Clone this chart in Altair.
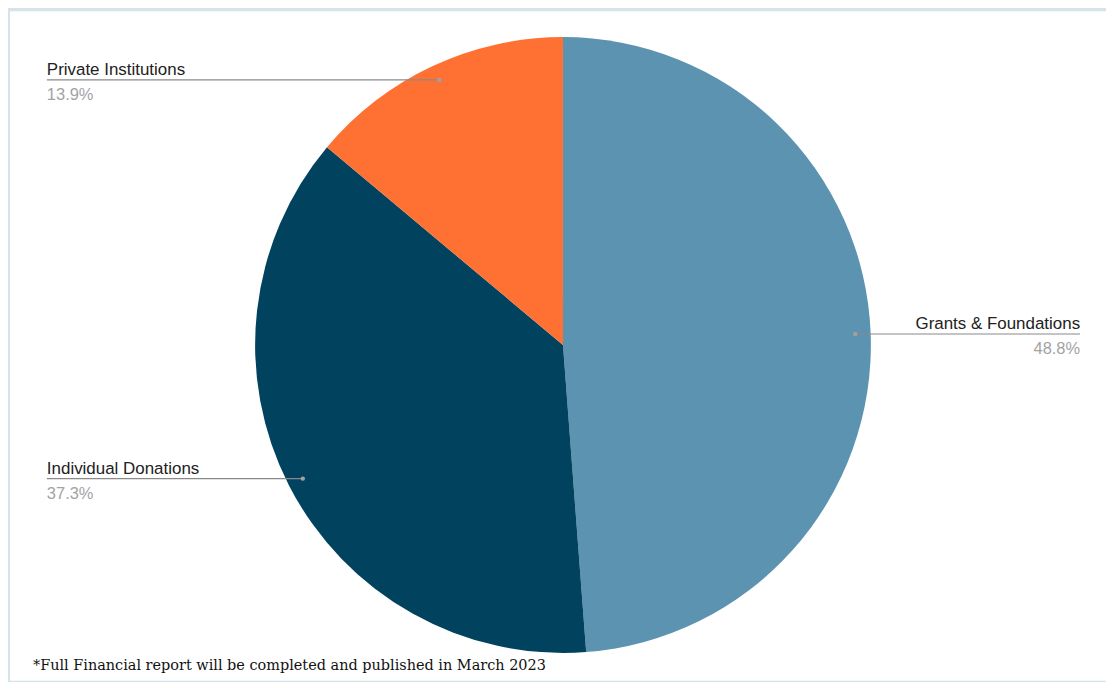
import altair as alt
import pandas as pd
import numpy as np

categories = ["Grants & Foundations", "Individual Donations", "Private Institutions"]
shares = [48.8, 37.3, 13.9]
colors = ["#5b93b0", "#01435f", "#ff7033"]
footnote = "*Full Financial report will be completed and published in March 2023"

R = 309
W, H = 1100, 672

df = pd.DataFrame({"cat": categories, "share": shares, "order": [0, 1, 2]})
total = df["share"].sum()
cum = df["share"].cumsum()
start = (cum - df["share"]) / total * 2 * np.pi
mid = start + df["share"] / total * np.pi
df["dx"] = 0.95 * R * np.sin(mid)
df["dy"] = 0.95 * R * np.cos(mid)
df["side"] = np.where(np.sin(mid) > 0, "right", "left")
df["lx"] = np.where(df["side"] == "right", 519, -518)
df["pct"] = df["share"].map(lambda v: f"{v:.1f}%")

xs = alt.Scale(domain=[-555, 545], nice=False, zero=False)
ys = alt.Scale(domain=[-337, 335], nice=False, zero=False)

base = alt.Chart(df)

pie = base.mark_arc(radius=R, strokeWidth=0).encode(
    theta=alt.Theta("share:Q", stack=True),
    color=alt.Color("cat:N", scale=alt.Scale(domain=categories, range=colors), legend=None),
    order=alt.Order("order:Q"),
    x=alt.X(datum=0, type="quantitative", scale=xs, axis=None),
    y=alt.Y(datum=0, type="quantitative", scale=ys, axis=None),
)

rules = base.mark_rule(color="#8a8a8a", strokeWidth=1.2).encode(
    x=alt.X("dx:Q", scale=xs, axis=None),
    x2="lx:Q",
    y=alt.Y("dy:Q", scale=ys, axis=None),
)

dots = base.mark_circle(size=20, color="#a0a0a0", opacity=1).encode(
    x=alt.X("dx:Q", scale=xs, axis=None),
    y=alt.Y("dy:Q", scale=ys, axis=None),
)

def labels(side, align):
    b = base.transform_filter(alt.datum.side == side)
    name = b.mark_text(align=align, baseline="alphabetic", dy=-5, font="Liberation Sans",
                       fontSize=17, color="#222222").encode(
        x=alt.X("lx:Q", scale=xs, axis=None),
        y=alt.Y("dy:Q", scale=ys, axis=None),
        text="cat:N",
    )
    pct = b.mark_text(align=align, baseline="alphabetic", dy=20, font="Liberation Sans",
                      fontSize=16.5, color="#a3a3a3").encode(
        x=alt.X("lx:Q", scale=xs, axis=None),
        y=alt.Y("dy:Q", scale=ys, axis=None),
        text="pct:N",
    )
    return name + pct

note_df = pd.DataFrame({"t": [footnote]})
note = alt.Chart(note_df).mark_text(align="left", baseline="alphabetic", font="DejaVu Serif",
                                    fontSize=14.5, color="#111111").encode(
    x=alt.value(23), y=alt.value(661), text="t:N"
)

chart = alt.layer(pie, rules, dots, labels("left", "left"), labels("right", "right"), note).properties(
    width=W, height=H,
    padding={"left": 2, "top": 2, "right": 0, "bottom": 0},
    background="#d6e4e9",
).configure_view(fill="white", strokeWidth=0)

chart.save("out.html", embed_options={"renderer": "svg", "actions": False})
